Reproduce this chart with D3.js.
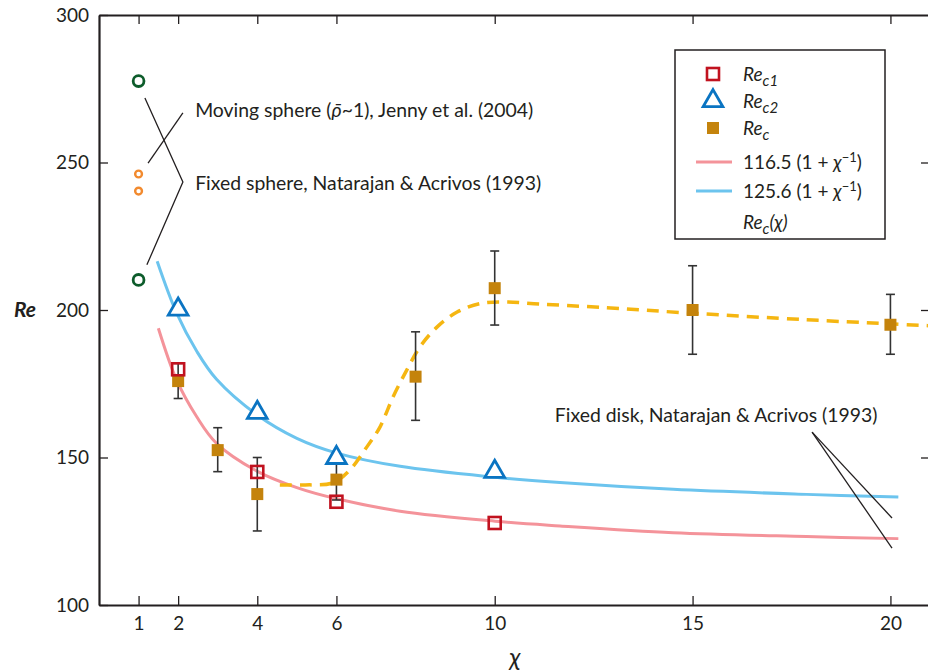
<!DOCTYPE html>
<html><head><meta charset="utf-8">
<script src="https://cdn.jsdelivr.net/npm/d3@7"></script>
<style>
body{margin:0;background:#fff}
svg{display:block}
text{font-family:Lato,"Liberation Sans",sans-serif;fill:#231f20}
</style>
</head><body><svg id="c" width="928" height="671"></svg>
<script>
// ---- data ----
const chiTicks = [1, 2, 4, 6, 10, 15, 20];
const reTicks = [100, 150, 200, 250, 300];
const sideTicks = [150, 200, 250];

const fixedSphereChi = [1, 1];
const fixedSphereRe = [277.6, 210.2];
const movingSphereChi = [1, 1];
const movingSphereRe = [246.1, 240.3];

const rec1Chi = [2, 4, 6, 10];
const rec1 = [179.9, 145.1, 135.0, 127.8];
const rec2Chi = [2, 4, 6, 10];
const rec2 = [200.2, 165.2, 149.9, 145.2];

const recChi = [2, 3, 4, 6, 8, 10, 15, 20];
const rec = [175.9, 152.5, 137.6, 142.5, 177.4, 207.4, 200.0, 195.0];
const recLow = [170.0, 145.2, 125.1, 135.6, 162.6, 194.9, 185.0, 185.0];
const recHigh = [181.9, 160.1, 150.0, 149.7, 192.6, 220.0, 215.0, 205.3];

// dashed Re_c(chi) curve
const recCurveChi = [4.57, 5.21, 5.91, 6.34, 6.77, 7.10, 7.43, 7.78, 8.11, 8.54, 9.05, 9.63, 10.3, 11.15, 12.66, 15.0, 17.87, 20.0, 20.95];
const recCurve = [140.7, 140.7, 141.4, 145.8, 153.6, 160.3, 170.5, 179.7, 187.5, 194.2, 199.3, 202.2, 202.7, 202.0, 200.9, 198.9, 196.7, 195.3, 194.7];

// fit curve 116.5 (1 + chi^-1)
const fitPinkChi = [1.50, 1.96, 2.47, 2.97, 3.99, 5.00, 6.01, 7.61, 10.01, 11.65, 14.51, 17.88, 20.20];
const fitPink = [193.8, 176.3, 163.8, 154.8, 145.4, 139.8, 136.0, 131.8, 128.4, 126.8, 124.5, 123.2, 122.5];
// fit curve 125.6 (1 + chi^-1)
const fitBlueChi = [1.47, 1.96, 2.47, 2.97, 3.99, 5.00, 6.01, 7.61, 10.01, 11.65, 14.51, 17.88, 20.20];
const fitBlue = [216.5, 199.0, 186.0, 176.5, 164.5, 156.5, 151.5, 147.0, 143.3, 141.5, 139.2, 137.5, 136.6];

const fitCoef = ["116.5", "125.6"];

// ---- scales ----
const svg = d3.select("#c");
const x = d3.scaleLinear().domain([0, 21]).range([99, 930]);
const y = d3.scaleLinear().domain([100, 300]).range([605, 15]);

const ink = "#231f20";
const C = {
  pink: "#f4939a", blue: "#6cc4ee", red: "#c1121f", tri: "#0a74c2",
  gold: "#c4830c", dash: "#f5b611", green: "#0d5c2b", orange: "#f28a2e"
};

// ---- axes ----
function styleAxis(g) {
  g.select(".domain").attr("stroke", ink).attr("stroke-width", 2.2);
  g.selectAll(".tick line").attr("stroke", ink).attr("stroke-width", 1.3);
  g.selectAll(".tick text").attr("fill", ink).style("font-size", "19px").style("font-family", "Lato, sans-serif");
}
svg.append("g").attr("transform", `translate(0,${y(100)})`)
  .call(d3.axisBottom(x).tickValues(chiTicks).tickSizeInner(-9).tickSizeOuter(0).tickPadding(12))
  .call(styleAxis);
svg.append("g").attr("transform", `translate(0,${y(300)})`)
  .call(d3.axisTop(x).tickValues(chiTicks).tickSizeInner(-9).tickSizeOuter(0).tickFormat(""))
  .call(styleAxis);
svg.append("g").attr("transform", `translate(${x(0)},0)`)
  .call(d3.axisLeft(y).tickValues(reTicks).tickSizeInner(-9).tickSizeOuter(0).tickPadding(10))
  .call(styleAxis);
svg.append("g").attr("transform", `translate(${x(21)},0)`)
  .call(d3.axisRight(y).tickValues(sideTicks).tickSizeInner(-9).tickSizeOuter(0).tickFormat(""))
  .call(styleAxis);

svg.append("text").attr("x", 25).attr("y", y(200)).attr("dy", "0.35em")
  .attr("text-anchor", "middle").style("font-size", "21px").style("font-weight", "bold").style("font-style", "italic").text("Re");
svg.append("text").attr("x", 515).attr("y", 657).attr("dy", "0.35em")
  .attr("text-anchor", "middle").style("font-size", "25px").style("font-style", "italic").text("χ");

// ---- fit curves ----
const smooth = d3.line().x(d => x(d[0])).y(d => y(d[1])).curve(d3.curveCatmullRom);
svg.append("path").attr("d", smooth(fitPinkChi.map((c, i) => [c, fitPink[i]])))
  .attr("fill", "none").attr("stroke", C.pink).attr("stroke-width", 3);
svg.append("path").attr("d", smooth(fitBlueChi.map((c, i) => [c, fitBlue[i]])))
  .attr("fill", "none").attr("stroke", C.blue).attr("stroke-width", 3);

// ---- dashed Re_c(chi) ----
svg.append("path")
  .attr("d", smooth(recCurveChi.map((c, i) => [c, recCurve[i]])))
  .attr("fill", "none").attr("stroke", C.dash).attr("stroke-width", 3.5).attr("stroke-dasharray", "12,8");

// ---- annotation lines ----
const ann = d3.line().x(d => x(d[0])).y(d => y(d[1]));
const annLines = [
  [[1.16, 271.9], [2.12, 243.4], [1.21, 215.3]],
  [[1.24, 249.8], [2.12, 266.8]],
  [[18.02, 158.6], [20.04, 129.5]],
  [[18.02, 158.6], [20.04, 119.3]]
];
annLines.forEach(p => svg.append("path").attr("d", ann(p)).attr("fill", "none").attr("stroke", ink).attr("stroke-width", 1.3));

function annText(cx, cy, parts) {
  const t = svg.append("text").attr("x", x(cx)).attr("y", y(cy)).style("font-size", "19.4px");
  parts.forEach(p => t.append("tspan").style("font-style", p.i ? "italic" : "normal").text(p.s));
}
annText(2.43, 265.4, [{s: "Moving sphere ("}, {s: "\u03C1\u0304", i: 1}, {s: "~1), Jenny et al. (2004)"}]);
annText(2.43, 240.7, [{s: "Fixed sphere, Natarajan & Acrivos (1993)"}]);
annText(11.52, 162.0, [{s: "Fixed disk, Natarajan & Acrivos (1993)"}]);

// ---- error bars ----
const eb = svg.append("g").attr("stroke", "#333").attr("stroke-width", 1.6);
recChi.forEach((c, i) => {
  eb.append("line").attr("x1", x(c)).attr("x2", x(c)).attr("y1", y(recLow[i])).attr("y2", y(recHigh[i]));
  [recLow[i], recHigh[i]].forEach(v => eb.append("line").attr("x1", x(c) - 4.5).attr("x2", x(c) + 4.5).attr("y1", y(v)).attr("y2", y(v)));
});

// ---- markers ----
svg.selectAll(".rc").data(recChi).join("rect").attr("class", "rc")
  .attr("x", c => x(c) - 6).attr("y", (c, i) => y(rec[i]) - 6).attr("width", 12).attr("height", 12).attr("fill", C.gold);
svg.selectAll(".r1").data(rec1Chi).join("rect").attr("class", "r1")
  .attr("x", c => x(c) - 6).attr("y", (c, i) => y(rec1[i]) - 6).attr("width", 12).attr("height", 12)
  .attr("fill", "none").attr("stroke", C.red).attr("stroke-width", 2.6);
const triSym = d3.symbol(d3.symbolTriangle, 168);
svg.selectAll(".r2").data(rec2Chi).join("path").attr("class", "r2")
  .attr("d", triSym).attr("transform", (c, i) => `translate(${x(c)},${y(rec2[i])})`)
  .attr("fill", "#fff").attr("stroke", C.tri).attr("stroke-width", 2.8);
svg.selectAll(".fs").data(fixedSphereChi).join("circle").attr("class", "fs")
  .attr("cx", c => x(c)).attr("cy", (c, i) => y(fixedSphereRe[i])).attr("r", 5.4)
  .attr("fill", "#fff").attr("stroke", C.green).attr("stroke-width", 2.8);
svg.selectAll(".ms").data(movingSphereChi).join("circle").attr("class", "ms")
  .attr("cx", c => x(c)).attr("cy", (c, i) => y(movingSphereRe[i])).attr("r", 3.4)
  .attr("fill", "#fff").attr("stroke", C.orange).attr("stroke-width", 2.4);

// ---- legend ----
const lg = svg.append("g");
lg.append("rect").attr("x", 675).attr("y", 50).attr("width", 210).attr("height", 189)
  .attr("fill", "#fff").attr("stroke", ink).attr("stroke-width", 1.5);
const rowY = [74, 101, 128, 162, 191, 222];
const sx = 713, tx = 743;
lg.append("rect").attr("x", sx - 6).attr("y", rowY[0] - 6).attr("width", 12).attr("height", 12)
  .attr("fill", "#fff").attr("stroke", C.red).attr("stroke-width", 2.6);
lg.append("path").attr("d", triSym).attr("transform", `translate(${sx},${rowY[1]})`)
  .attr("fill", "#fff").attr("stroke", C.tri).attr("stroke-width", 2.8);
lg.append("rect").attr("x", sx - 6).attr("y", rowY[2] - 6).attr("width", 12).attr("height", 12).attr("fill", C.gold);
lg.append("line").attr("x1", 696).attr("x2", 732).attr("y1", rowY[3]).attr("y2", rowY[3]).attr("stroke", C.pink).attr("stroke-width", 3);
lg.append("line").attr("x1", 696).attr("x2", 732).attr("y1", rowY[4]).attr("y2", rowY[4]).attr("stroke", C.blue).attr("stroke-width", 3);

function reLabel(row, sub, tail) {
  const t = lg.append("text").attr("x", tx).attr("y", rowY[row]).attr("dy", "0.35em").style("font-size", "19px").style("font-style", "italic");
  t.append("tspan").text("Re");
  t.append("tspan").attr("dy", 5).style("font-size", "15px").text(sub);
  if (tail) t.append("tspan").attr("dy", -5).text(tail);
}
reLabel(0, "c1");
reLabel(1, "c2");
reLabel(2, "c");
fitCoef.forEach((a, i) => {
  const t = lg.append("text").attr("x", tx).attr("y", rowY[3 + i]).attr("dy", "0.35em").style("font-size", "19px");
  t.append("tspan").text(a + " (1 + ");
  t.append("tspan").style("font-style", "italic").text("χ");
  t.append("tspan").attr("dy", -7).style("font-size", "13px").text("−1");
  t.append("tspan").attr("dy", 7).text(")");
});
reLabel(5, "c", "(χ)");
</script>
</body></html>
